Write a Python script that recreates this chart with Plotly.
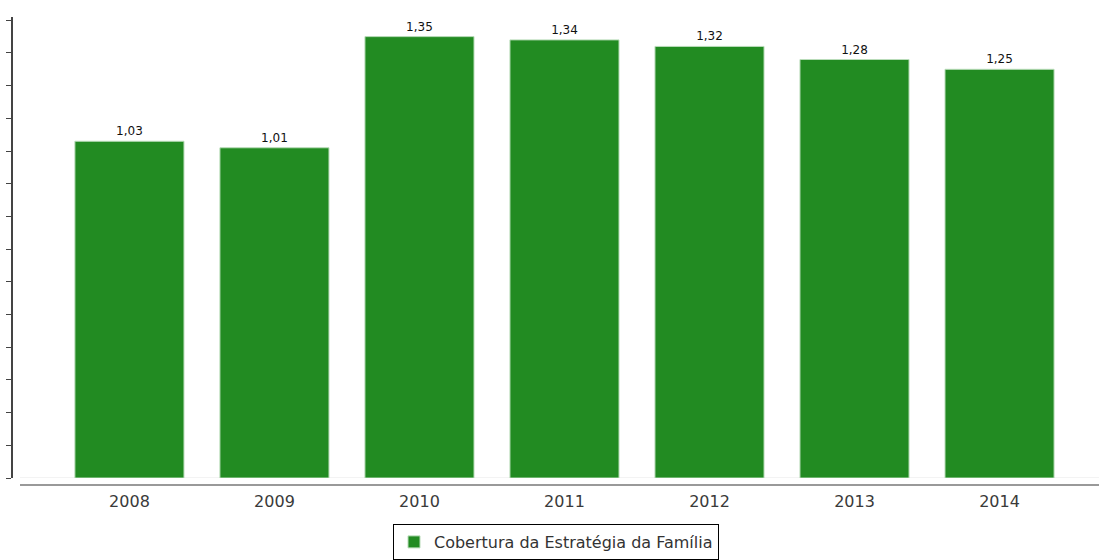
import plotly.graph_objects as go

# Cobertura da Estratégia da Família por ano
anos = ["2008", "2009", "2010", "2011", "2012", "2013", "2014"]
cobertura = [1.03, 1.01, 1.35, 1.34, 1.32, 1.28, 1.25]
serie = "Cobertura da Estratégia da Família"

W, H = 1099, 560
m_left, m_right, m_top, m_bottom = 13, 0, 17, 74
plot_h = H - m_top - m_bottom

fig = go.Figure()
fig.add_trace(go.Bar(
    x=anos,
    y=cobertura,
    name=serie,
    marker=dict(color="#228B22", line=dict(color="#b9dcb9", width=1)),
    texttemplate="%{y:.2f}",
    textposition="outside",
    textfont=dict(family="DejaVu Sans", size=12, color="#111111"),
    cliponaxis=False,
    showlegend=True,
))

fig.update_layout(
    width=W,
    height=H,
    margin=dict(l=m_left, r=m_right, t=m_top, b=m_bottom),
    paper_bgcolor="white",
    plot_bgcolor="white",
    separators=",.",
    bargap=0.248,
    font=dict(family="DejaVu Sans", color="#333333"),
    xaxis=dict(
        type="category",
        range=[-0.803, 6.686],
        showline=False,
        showgrid=False,
        ticks="",
        ticklabelstandoff=5,
        tickfont=dict(family="DejaVu Sans", size=16, color="#3a3a3a"),
        anchor="free",
        position=0,
    ),
    yaxis=dict(
        domain=[7 / plot_h, 1],
        range=[0, 1.41],
        dtick=0.1,
        showgrid=False,
        zeroline=False,
        showline=True,
        linecolor="#444444",
        linewidth=2,
        ticks="outside",
        ticklen=5,
        tickwidth=1,
        tickcolor="#444444",
        showticklabels=False,
    ),
    legend=dict(
        orientation="h",
        x=0.5,
        xanchor="center",
        y=-(H - m_top - plot_h) / plot_h - 0.002,
        yanchor="bottom",
        bordercolor="#000000",
        borderwidth=1,
        font=dict(family="DejaVu Sans", size=16, color="#333333"),
        itemwidth=30,
    ),
    showlegend=True,
    shapes=[
        # base line under the bars
        dict(type="line", xref="paper", yref="y", x0=7 / (W - m_left), x1=1,
             y0=0, y1=0, line=dict(color="#e6e6e6", width=1), layer="below"),
        # horizontal axis line
        dict(type="line", xref="paper", yref="paper", x0=7 / (W - m_left), x1=1,
             y0=0, y1=0, line=dict(color="#999999", width=2)),
    ],
)

fig.write_html("out.html")
